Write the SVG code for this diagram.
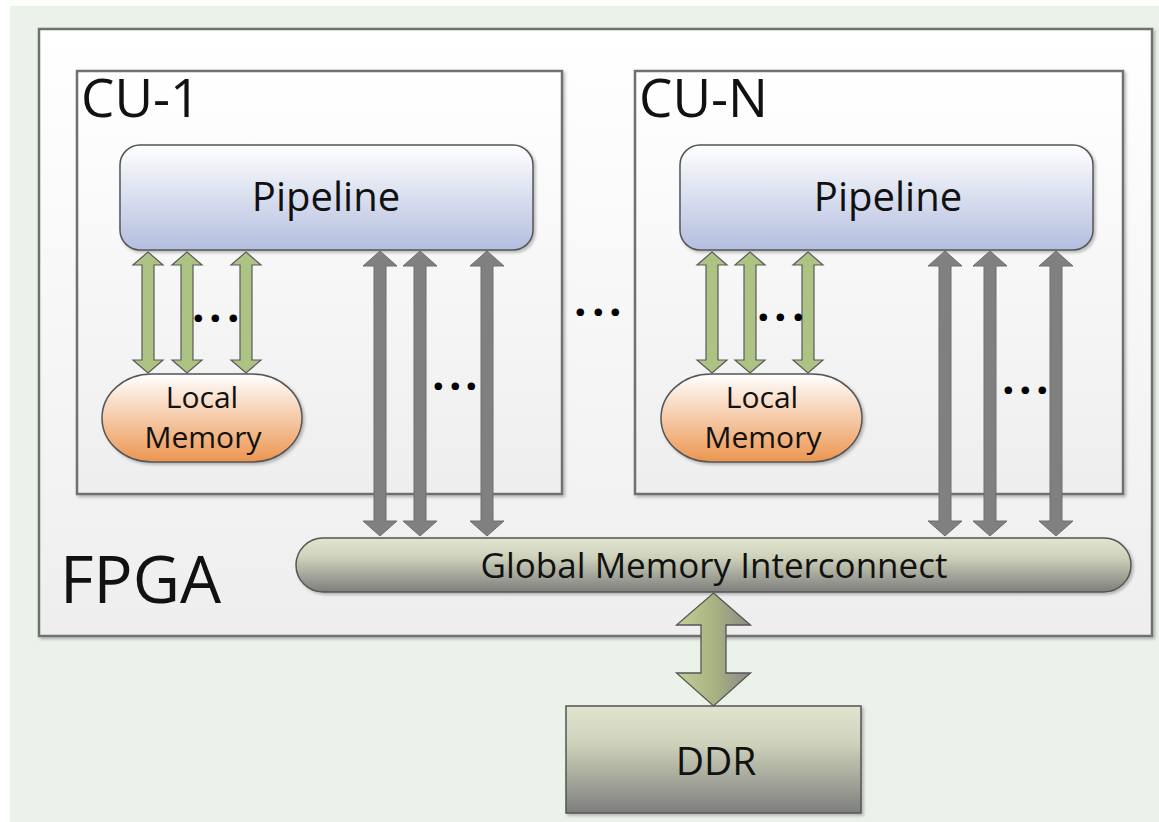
<svg xmlns="http://www.w3.org/2000/svg" width="1159" height="822" viewBox="0 0 1159 822">
<defs>
<linearGradient id="gBox" x1="0" y1="0" x2="0" y2="1"><stop offset="0" stop-color="#ffffff"/><stop offset="1" stop-color="#eeeeee"/></linearGradient>
<linearGradient id="gPipe" x1="0" y1="0" x2="0" y2="1"><stop offset="0" stop-color="#ffffff"/><stop offset="1" stop-color="#b3bedf"/></linearGradient>
<linearGradient id="gLocal" x1="0" y1="0" x2="0" y2="1"><stop offset="0" stop-color="#ffffff"/><stop offset="1" stop-color="#ec9550"/></linearGradient>
<linearGradient id="gOlive" x1="0" y1="0" x2="0" y2="1"><stop offset="0" stop-color="#e1e4d0"/><stop offset="0.35" stop-color="#cfd2bb"/><stop offset="1" stop-color="#7e7e7c"/></linearGradient>
<linearGradient id="gBig" x1="0" y1="0" x2="1" y2="0"><stop offset="0" stop-color="#c5cf98"/><stop offset="0.5" stop-color="#a9b382"/><stop offset="1" stop-color="#8a8a84"/></linearGradient>
<filter id="sh" x="-5%" y="-5%" width="110%" height="115%"><feDropShadow dx="2" dy="2" stdDeviation="1.5" flood-color="#000" flood-opacity="0.25"/></filter>
</defs>
<style>
.box{fill:url(#gBox);stroke:#707070;stroke-width:2.5}
.pipe{fill:url(#gPipe);stroke:#555;stroke-width:1.5}
.loc{fill:url(#gLocal);stroke:#555;stroke-width:1.5}
.olive{fill:url(#gOlive);stroke:#555;stroke-width:1.5}
.ga{fill:#808080;stroke:#6e6e6e;stroke-width:1}
.gr{fill:#adc383;stroke:#5a5a5a;stroke-width:1.2}
.big{fill:url(#gBig);stroke:#555;stroke-width:1.3}
text{font-family:"Open Sans","Noto Sans","DejaVu Sans",sans-serif;fill:#111}
.t{text-anchor:middle}
.dots{font-size:44px;font-weight:700;fill:#000}
</style>
<rect x="0" y="0" width="1159" height="822" fill="#ffffff"/>
<rect x="10" y="6" width="1149" height="816" fill="#eaf2ea"/>

<g id="fpga">
<rect class="box" x="39" y="29" width="1113" height="607" filter="url(#sh)"/>
<text x="60" y="603" font-size="65">FPGA</text>
</g>

<g id="cu1">
<rect class="box" x="77" y="71" width="485" height="423" filter="url(#sh)"/>
<text x="81" y="117" font-size="53">CU-1</text>
</g>
<g id="cuN">
<rect class="box" x="635" y="71" width="488" height="423" filter="url(#sh)"/>
<text x="639" y="117" font-size="53">CU-N</text>
</g>

<g id="pipeline1">
<rect class="pipe" x="120" y="145" width="413" height="105" rx="20" filter="url(#sh)"/>
<text class="t" x="326" y="211" font-size="40">Pipeline</text>
</g>
<g id="pipelineN">
<rect class="pipe" x="680" y="145" width="413" height="105" rx="20" filter="url(#sh)"/>
<text class="t" x="888" y="211" font-size="40">Pipeline</text>
</g>

<g id="local1">
<rect class="loc" x="102" y="374" width="200" height="88" rx="50" ry="44" filter="url(#sh)"/>
<text class="t" x="202" y="408" font-size="30">Local</text>
<text class="t" x="203" y="448" font-size="30">Memory</text>
</g>
<g id="localN">
<rect class="loc" x="661" y="374" width="201" height="88" rx="50" ry="44" filter="url(#sh)"/>
<text class="t" x="762" y="408" font-size="30">Local</text>
<text class="t" x="763" y="448" font-size="30">Memory</text>
</g>

<g id="gmi">
<rect class="olive" x="296" y="538" width="835" height="54" rx="27" filter="url(#sh)"/>
<text class="t" x="714" y="578" font-size="35">Global Memory Interconnect</text>
</g>

<g id="ddr">
<rect class="olive" x="566" y="706" width="295" height="107" filter="url(#sh)"/>
<text class="t" x="716" y="775" font-size="39">DDR</text>
</g>

<g id="connectors">
<path class="gr" d="M148 252 L163 265 L154 265 L154 360 L163 360 L148 373 L133 360 L142 360 L142 265 L133 265 Z"/>
<path class="gr" d="M187 252 L202 265 L193 265 L193 360 L202 360 L187 373 L172 360 L181 360 L181 265 L172 265 Z"/>
<path class="gr" d="M246 252 L261 265 L252 265 L252 360 L261 360 L246 373 L231 360 L240 360 L240 265 L231 265 Z"/>
<path class="gr" d="M712 252 L727 265 L718 265 L718 360 L727 360 L712 373 L697 360 L706 360 L706 265 L697 265 Z"/>
<path class="gr" d="M750 252 L765 265 L756 265 L756 360 L765 360 L750 373 L735 360 L744 360 L744 265 L735 265 Z"/>
<path class="gr" d="M808 252 L823 265 L814 265 L814 360 L823 360 L808 373 L793 360 L802 360 L802 265 L793 265 Z"/>
<path class="ga" d="M380 251 L397 266 L386 266 L386 521 L397 521 L380 536 L363 521 L374 521 L374 266 L363 266 Z"/>
<path class="ga" d="M420 251 L437 266 L426 266 L426 521 L437 521 L420 536 L403 521 L414 521 L414 266 L403 266 Z"/>
<path class="ga" d="M487 251 L504 266 L493 266 L493 521 L504 521 L487 536 L470 521 L481 521 L481 266 L470 266 Z"/>
<path class="ga" d="M945 251 L962 266 L951 266 L951 521 L962 521 L945 536 L928 521 L939 521 L939 266 L928 266 Z"/>
<path class="ga" d="M990 251 L1007 266 L996 266 L996 521 L1007 521 L990 536 L973 521 L984 521 L984 266 L973 266 Z"/>
<path class="ga" d="M1056 251 L1073 266 L1062 266 L1062 521 L1073 521 L1056 536 L1039 521 L1050 521 L1050 266 L1039 266 Z"/>
<path class="big" d="M713.5 593 L750.5 625 L726 625 L726 673 L750.5 673 L713.5 706 L676.5 673 L701 673 L701 625 L676.5 625 Z"/>
</g>

<g id="ellipses">
<text class="dots" x="192 209 227" y="322">...</text>
<text class="dots" x="432 449 465" y="390">...</text>
<text class="dots" x="574 592 609" y="316">...</text>
<text class="dots" x="757 774 792" y="321">...</text>
<text class="dots" x="1002 1019 1036" y="394">...</text>
</g>
</svg>
